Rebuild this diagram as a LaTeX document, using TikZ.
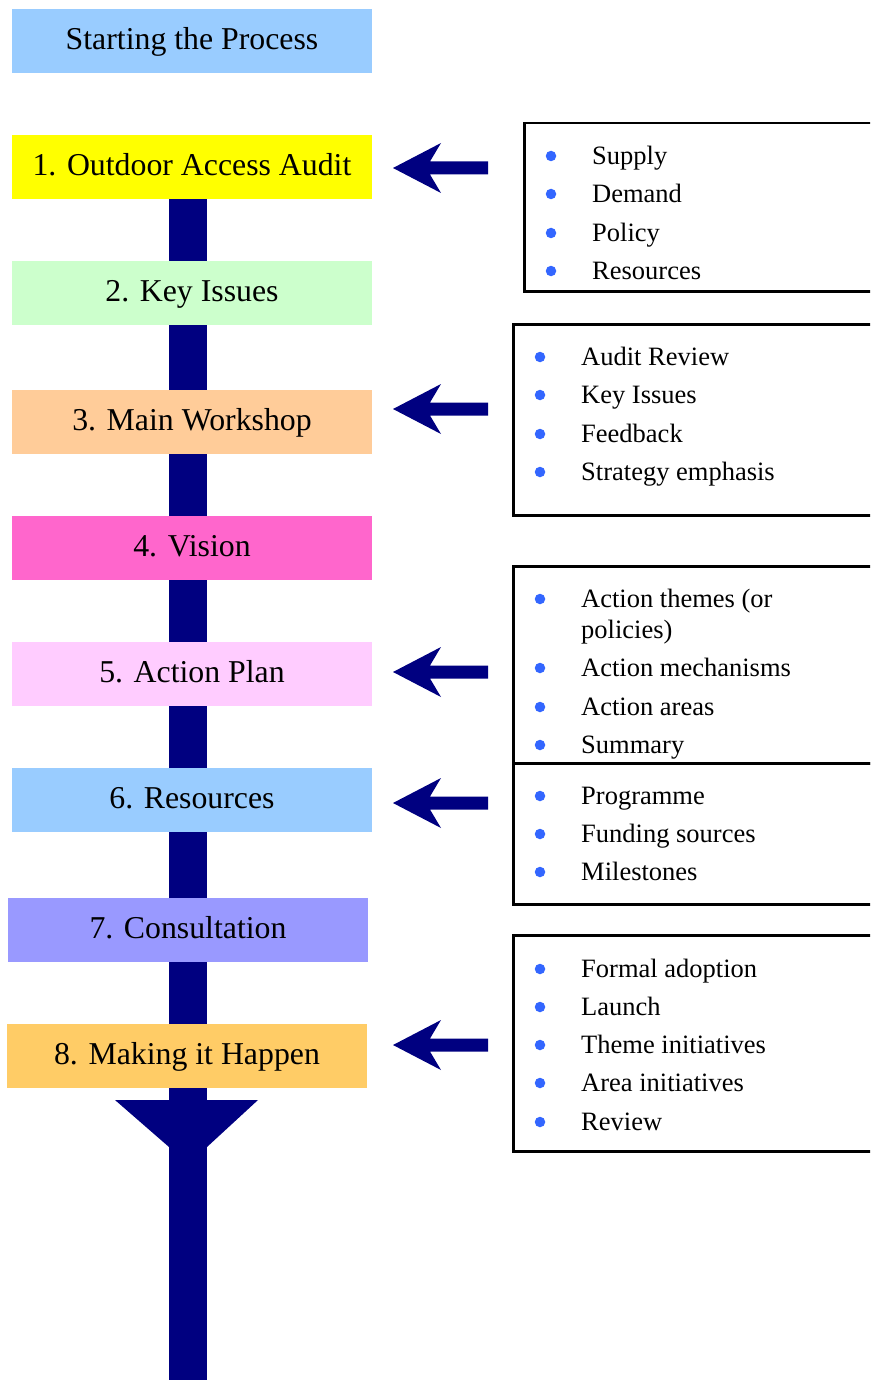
\documentclass[tikz,border=0pt]{standalone}
\usepackage{fontspec}
\setmainfont{Liberation Serif}
\usetikzlibrary{backgrounds}

\definecolor{spinenavy}{HTML}{000080}
\definecolor{bulletblue}{HTML}{3366FF}
\definecolor{cStart}{HTML}{99CCFF}
\definecolor{cAudit}{HTML}{FFFF00}
\definecolor{cIssues}{HTML}{CCFFCC}
\definecolor{cWorkshop}{HTML}{FFCC99}
\definecolor{cVision}{HTML}{FF66CC}
\definecolor{cPlan}{HTML}{FFCCFF}
\definecolor{cResources}{HTML}{99CCFF}
\definecolor{cConsult}{HTML}{9999FF}
\definecolor{cHappen}{HTML}{FFCC66}

\begin{document}
\begin{tikzpicture}[x=1pt,y=-1pt,
  stepbox/.style={rectangle, inner sep=0pt, minimum width=360pt, minimum height=64pt,
    text height=24pt, text depth=7pt, font=\fontsize{31.8}{38}\selectfont},
  listframe/.style={rectangle, draw=black, line width=2.5pt, anchor=north west,
    inner sep=0pt, minimum width=372pt},
  dot/.style={circle, fill=bulletblue, inner sep=0pt, minimum size=10.5pt},
  entry/.style={anchor=base west, inner sep=0pt, align=left,
    font=\fontsize{26.5}{31}\selectfont},
  spine/.style={draw=spinenavy, line width=38pt},
  blockarrow/.pic={\fill[spinenavy] (0,0) -- (48,-25) -- (37,-6.5) -- (95,-6.5)
    -- (95,6.5) -- (37,6.5) -- (48,25) -- cycle;}
]
\useasboundingbox (0,0) rectangle (870,1380);
\clip (0,0) rectangle (870,1380);

% process steps
\node[stepbox, fill=cStart]     (s0) at (192,41)   {Starting the Process};
\node[stepbox, fill=cAudit]     (s1) at (192,167)  {1. Outdoor Access Audit};
\node[stepbox, fill=cIssues]    (s2) at (192,293)  {2. Key Issues};
\node[stepbox, fill=cWorkshop]  (s3) at (192,422)  {3. Main Workshop};
\node[stepbox, fill=cVision]    (s4) at (192,548)  {4. Vision};
\node[stepbox, fill=cPlan]      (s5) at (192,674)  {5. Action Plan};
\node[stepbox, fill=cResources] (s6) at (192,800)  {6. Resources};
\node[stepbox, fill=cConsult]   (s7) at (188,930)  {7. Consultation};
\node[stepbox, fill=cHappen]    (s8) at (187,1056) {8. Making it Happen};

% spine running down behind the steps, with its funnel head
\coordinate (spineend) at (188,1380);
\coordinate (funnel) at (188,1100);
\begin{scope}[on background layer]
  \draw[spine] (s1.south -| spineend) -- (spineend);
\end{scope}
\fill[spinenavy] (funnel) ++(-73,0) -- ++(143,0) -- ++(-51,47) -- ++(-38,0) -- cycle;

% detail boxes
\node[listframe, minimum height=168pt] (lA) at (523,122) {};
\node[listframe, minimum height=191pt] (lB) at (512,323) {};
\node[listframe, minimum height=197pt] (lC) at (512,565) {};
\node[listframe, minimum height=141pt] (lD) at (512,762) {};
\node[listframe, minimum height=216pt] (lE) at (512,934) {};

% arrows pointing from the detail boxes to the steps
\pic at (393,168)  {blockarrow};
\pic at (393,409)  {blockarrow};
\pic at (393,672)  {blockarrow};
\pic at (393,803)  {blockarrow};
\pic at (393,1045) {blockarrow};

% bullet entries
\foreach \y/\t [count=\i] in {156/Supply,194/Demand,233/Policy,271/Resources}{
  \node[dot] (dA\i) at (551,\y) {};
  \node[entry] (tA\i) at (592,\y+8.5) {\t};
}
\foreach \y/\t [count=\i] in {357/Audit Review,395/Key Issues,434/Feedback,472/Strategy emphasis}{
  \node[dot] (dB\i) at (540,\y) {};
  \node[entry] (tB\i) at (581,\y+8.5) {\t};
}
% the first entry of this box wraps onto two lines (base anchor sits on the last line)
\node[dot] (dC1) at (540,599) {};
\node[entry] (tC1) at (581,638.5) {Action themes (or\\policies)};
\foreach \y/\t [count=\i from 2] in {668/Action mechanisms,707/Action areas,745/Summary}{
  \node[dot] (dC\i) at (540,\y) {};
  \node[entry] (tC\i) at (581,\y+8.5) {\t};
}
\foreach \y/\t [count=\i] in {796/Programme,834/Funding sources,872/Milestones}{
  \node[dot] (dD\i) at (540,\y) {};
  \node[entry] (tD\i) at (581,\y+8.5) {\t};
}
\foreach \y/\t [count=\i] in {969/Formal adoption,1007/Launch,1045/Theme initiatives,1083/Area initiatives,1122/Review}{
  \node[dot] (dE\i) at (540,\y) {};
  \node[entry] (tE\i) at (581,\y+8.5) {\t};
}
\end{tikzpicture}
\end{document}
